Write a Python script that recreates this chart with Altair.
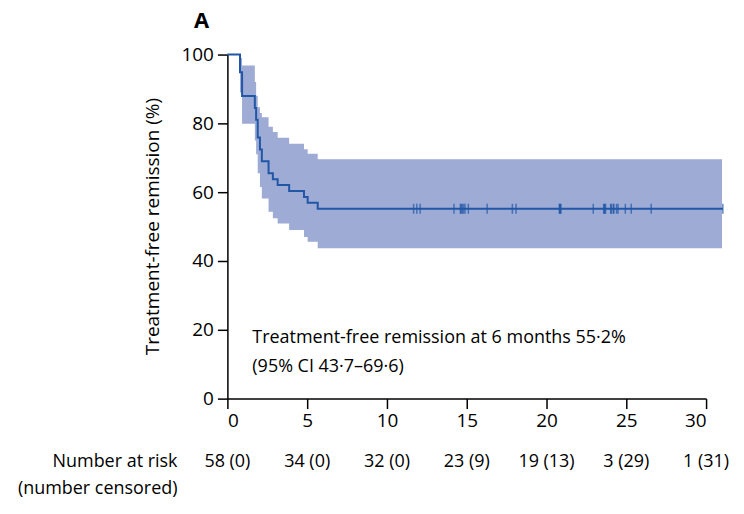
import altair as alt
import pandas as pd

# Kaplan-Meier step data (months, % treatment-free remission)
event_times = [0, 0.79, 0.92, 1.72, 1.80, 1.90, 2.04, 2.16, 2.58, 2.85, 3.15, 3.87, 4.80, 5.03, 5.66, 31.05]
surv        = [100, 94.83, 87.93, 84.48, 81.03, 75.86, 72.41, 68.97, 65.52, 63.79, 62.07, 60.34, 58.62, 56.90, 55.17, 55.17]

# 95% CI band (step after each event)
ci_times = [0.79, 0.92, 1.72, 1.80, 1.90, 2.04, 2.16, 2.58, 2.85, 3.15, 3.87, 4.80, 5.03, 5.66, 31.0]
ci_upper = [99.0, 96.8, 92.0, 88.0, 84.7, 83.0, 81.8, 79.0, 77.5, 75.8, 74.1, 72.5, 71.2, 69.6, 69.6]
ci_lower = [89.0, 79.9, 75.0, 71.0, 65.5, 61.5, 58.2, 54.3, 52.4, 50.9, 49.0, 47.0, 45.6, 43.7, 43.7]

# censoring times
censor_times = [11.67, 11.87, 12.08, 14.2, 14.6, 14.65, 14.72, 14.8, 14.89,
                15.1, 16.28, 17.86, 18.09,
                20.8, 20.83, 20.87, 20.9, 22.93, 23.58, 23.62, 23.66, 23.7,
                24.02, 24.06, 24.18, 24.22, 24.39, 24.48, 24.94,
                25.31, 26.56, 31.05]
censor_surv = 55.17

# number at risk table
risk_times = [0, 5, 10, 15, 20, 25, 30]
risk_labels = ["58 (0)", "34 (0)", "32 (0)", "23 (9)", "19 (13)", "3 (29)", "1 (31)"]

ann_line1 = "Treatment-free remission at 6 months 55·2%"
ann_line2 = "(95% CI 43·7–69·6)"

FONT = "Open Sans"
LINE = "#2157a6"
BAND = "#9eabd5"
FS = 18

km = pd.DataFrame({"t": event_times, "s": surv})
ci = pd.DataFrame({"t": ci_times, "u": ci_upper, "l": ci_lower})
cens = pd.DataFrame({"t": censor_times, "s": [censor_surv] * len(censor_times)})
risk = pd.DataFrame({"t": risk_times, "lab": risk_labels})

xs = alt.Scale(domain=[0, 30])
ys = alt.Scale(domain=[0, 100])

xax = alt.Axis(values=[0, 5, 10, 15, 20, 25, 30], title=None, labelPadding=3)
yax = alt.Axis(values=[0, 20, 40, 60, 80, 100], title="Treatment-free remission (%)",
               titleX=-75, titleY=172, titleAngle=-90, titleAlign="center",
               titleBaseline="middle", labelPadding=4)

band = alt.Chart(ci).mark_area(interpolate="step-after", color=BAND, opacity=1).encode(
    x=alt.X("t:Q", scale=xs, axis=xax),
    y=alt.Y("l:Q", scale=ys, axis=yax),
    y2="u:Q",
)

line = alt.Chart(km).mark_line(interpolate="step-after", color=LINE, strokeWidth=2).encode(
    x=alt.X("t:Q", scale=xs),
    y=alt.Y("s:Q", scale=ys),
)

ticks = alt.Chart(cens).mark_tick(orient="vertical", color=LINE, size=10, thickness=1.5).encode(
    x=alt.X("t:Q", scale=xs),
    y=alt.Y("s:Q", scale=ys),
)

risk_text = alt.Chart(risk).mark_text(font=FONT, fontSize=FS, color="black", baseline="middle", align="center").encode(
    x=alt.X("t:Q", scale=xs),
    y=alt.value(409),
    text="lab:N",
)


def label(txt, x, y, align="left", size=FS, weight="normal"):
    df = pd.DataFrame({"txt": [txt]})
    return alt.Chart(df).mark_text(font=FONT, fontSize=size, fontWeight=weight, color="black",
                                   baseline="middle", align=align).encode(
        x=alt.value(x), y=alt.value(y), text="txt:N")


row1 = label("Number at risk", -50, 409, align="right")
row2 = label("(number censored)", -50, 436, align="right")
ann1 = label(ann_line1, 25, 284)
ann2 = label(ann_line2, 25, 313)
panel = label("A", -26, -34, align="center", size=22, weight="bold")

chart = alt.layer(band, line, ticks, risk_text, row1, row2, ann1, ann2, panel).properties(
    width=480,
    height=345,
    autosize=alt.AutoSizeParams(type="none"),
    padding={"left": 220, "top": 46, "right": 30, "bottom": 110},
).configure_view(stroke=None).configure_axis(
    domainColor="black", domainWidth=1.5, tickColor="black", tickWidth=1.5, tickSize=10,
    labelFont=FONT, labelFontSize=19, labelColor="black", grid=False,
    titleFont=FONT, titleFontSize=19, titleColor="black", titleFontWeight="normal",
)

chart.save("out.html", embed_options={"renderer": "svg", "actions": False})
